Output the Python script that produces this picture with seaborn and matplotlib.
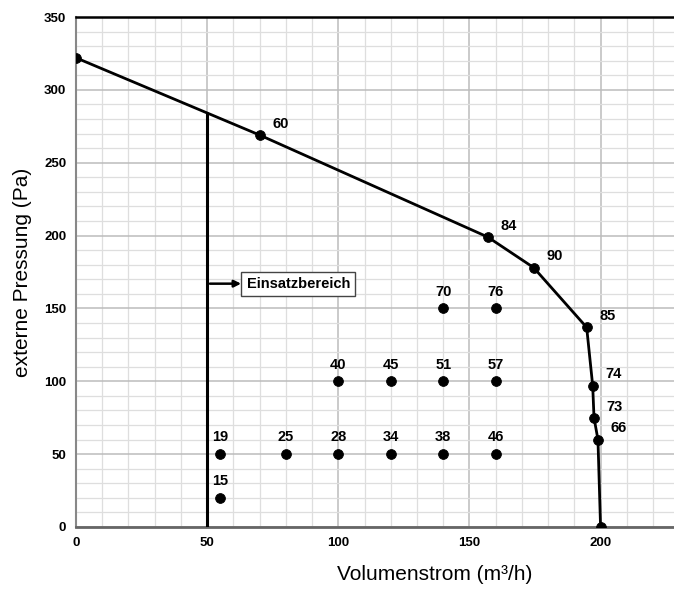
import numpy as np
import pandas as pd
import seaborn as sns
import matplotlib.pyplot as plt
from matplotlib.ticker import MultipleLocator

# Kennlinie (Volumenstrom, Pressung, Beschriftung)
curve_x = [0, 70, 157, 174.5, 194.7, 197, 197.5, 199, 200]
curve_y = [322, 269, 199, 178, 137, 97, 75, 60, 0]
curve_lbl = ['', '60', '84', '90', '85', '74', '73', '66', '']

# Messpunkte im Einsatzbereich
pts_x = [55, 55, 80, 100, 120, 140, 160, 100, 120, 140, 160, 140, 160]
pts_y = [20, 50, 50, 50, 50, 50, 50, 100, 100, 100, 100, 150, 150]
pts_lbl = ['15', '19', '25', '28', '34', '38', '46', '40', '45', '51', '57', '70', '76']

sns.set_theme(style='white', rc={'text.color': 'black', 'axes.labelcolor': 'black',
                                 'xtick.color': 'black', 'ytick.color': 'black'})
plt.rcParams['font.family'] = ['Liberation Sans', 'DejaVu Sans']

fig = plt.figure(figsize=(6.74, 5.93), dpi=100)
ax = fig.add_axes([0.1128, 0.1113, 0.8872, 0.86])

df_c = pd.DataFrame({'x': curve_x, 'y': curve_y})
df_p = pd.DataFrame({'x': pts_x, 'y': pts_y})

sns.lineplot(data=df_c, x='x', y='y', sort=False, color='black', lw=2, ax=ax)
sns.scatterplot(data=df_c, x='x', y='y', color='black', s=50, edgecolor='black', ax=ax, zorder=5)
sns.scatterplot(data=df_p, x='x', y='y', color='black', s=50, edgecolor='black', ax=ax, zorder=5)

for x, y, t in zip(curve_x, curve_y, curve_lbl):
    if t:
        ax.annotate(t, (x, y), xytext=(9, 3), textcoords='offset points',
                    fontsize=10.5, fontweight='bold', ha='left', va='bottom')
for x, y, t in zip(pts_x, pts_y, pts_lbl):
    ax.annotate(t, (x, y), xytext=(0, 7), textcoords='offset points',
                fontsize=10.5, fontweight='bold', ha='center', va='bottom')

# Einsatzbereich-Grenze bei 50 m3/h
ax.plot([50, 50], [0, 284], color='black', lw=2.2, zorder=4)
ax.annotate('', xy=(64, 167), xytext=(50, 167),
            arrowprops=dict(arrowstyle='-|>', color='black', lw=1.8, mutation_scale=10))
ax.text(65, 167, 'Einsatzbereich', fontsize=10.5, fontweight='bold', va='center', ha='left',
        bbox=dict(boxstyle='square,pad=0.35', fc='white', ec='#444444', lw=1))

ax.set_xlim(0, 228)
ax.set_ylim(0, 350)
ax.xaxis.set_major_locator(MultipleLocator(50))
ax.yaxis.set_major_locator(MultipleLocator(50))
ax.xaxis.set_minor_locator(MultipleLocator(10))
ax.yaxis.set_minor_locator(MultipleLocator(10))
ax.grid(which='major', color='#bcbcbc', lw=1.1)
ax.grid(which='minor', color='#dedede', lw=0.9)
ax.set_axisbelow(True)

for lab in ax.get_xticklabels() + ax.get_yticklabels():
    lab.set_fontweight('bold')
ax.tick_params(labelsize=9.5, length=0, pad=7)

ax.spines['right'].set_visible(False)
ax.spines['top'].set_color('black')
ax.spines['top'].set_linewidth(1.8)
ax.spines['left'].set_color('#888888')
ax.spines['left'].set_linewidth(1.5)
ax.spines['bottom'].set_color('#666666')
ax.spines['bottom'].set_linewidth(2)

ax.set_xlabel('Volumenstrom (m³/h)', fontsize=15, va='center')
ax.set_ylabel('externe Pressung (Pa)', fontsize=15, va='center')
ax.xaxis.set_label_coords(0.60, -0.094)
ax.yaxis.set_label_coords(-0.09, 0.5)

fig.savefig('out.png', dpi=100)
